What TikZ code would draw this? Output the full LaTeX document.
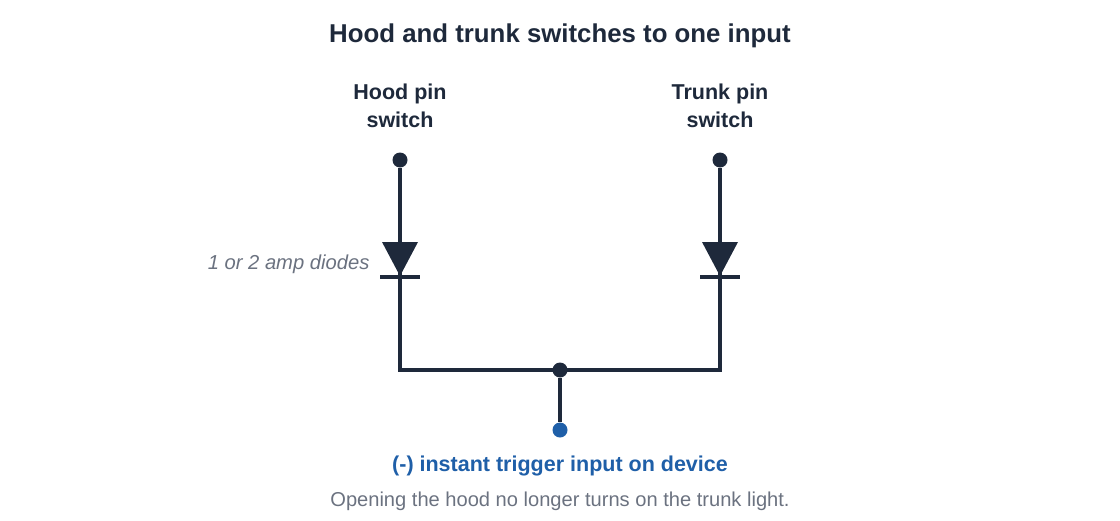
\documentclass[tikz,border=0pt]{standalone}
\usepackage{fontspec}
\setmainfont{Liberation Sans}
\begin{document}
\definecolor{navy}{HTML}{1E293B}
\definecolor{blu}{HTML}{1F5FA8}
\definecolor{gry}{HTML}{6B7280}
\begin{tikzpicture}[x=1pt,y=-1pt,
  wire/.style={navy,line width=3.8pt},
  dot/.style={circle,fill=navy,inner sep=0pt,minimum size=15pt},
  lbl/.style={font=\fontsize{21.5}{28}\selectfont\bfseries,text=navy,align=center},
  diode/.style={fill=navy}]
\useasboundingbox (0,0) rectangle (1120,520);
\node[lbl,font=\fontsize{25.8}{28}\selectfont\bfseries] (title) at (560,36) {Hood and trunk switches to one input};
\node[lbl] (hl) at (400,106) {Hood pin\\switch};
\node[lbl] (tl) at (720,106) {Trunk pin\\switch};
\node[dot] (h) at (400,160) {};
\node[dot] (t) at (720,160) {};
\node[dot] (j) at (560,370) {};
\node[dot,fill=blu] (o) at (560,430) {};
\coordinate (hc) at (400,370);
\coordinate (tc) at (720,370);
\draw[wire,line join=miter] (h) -- (hc) -- (tc) -- (t);
\draw[wire] (j) -- (o);
\foreach \x/\n in {400/hd,720/td}{
  \fill[navy] (\x-18,242) -- (\x+18,242) -- (\x,276) -- cycle;
  \draw[wire] (\x-20,277) -- (\x+20,277);
}
\node[anchor=east,font=\fontsize{20.2}{22}\selectfont\itshape,text=gry] (dl) at (373,264) {1 or 2 amp diodes};
\node[font=\fontsize{21.5}{24}\selectfont\bfseries,text=blu] (ol) at (560,466) {(-) instant trigger input on device};
\node[font=\fontsize{20.1}{24}\selectfont,text=gry] (note) at (560,501) {Opening the hood no longer turns on the trunk light.};
\end{tikzpicture}
\end{document}
